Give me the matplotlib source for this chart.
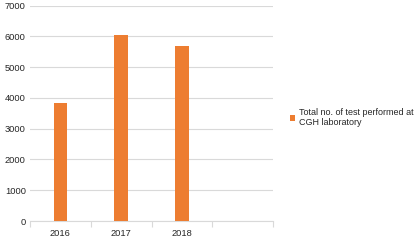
import matplotlib
matplotlib.use("Agg")
import matplotlib.pyplot as plt
import numpy as np

years = ["2016", "2017", "2018", ""]
tests = [3850, 6040, 5690, 0]
series_name = "Total no. of test performed at\nCGH laboratory"

orange = "#ED7D31"
grid_col = "#D9D9D9"
text_col = "#262626"

plt.rcParams["font.family"] = ["Liberation Sans", "DejaVu Sans"]

fig = plt.figure(figsize=(4.19, 2.40), dpi=100)
ax = fig.add_axes([0.0716, 0.079, 0.58, 0.898])

x = np.arange(len(years))
bars = ax.bar(x[:3], tests[:3], width=0.22, color=orange, label=series_name, zorder=3)

ax.set_xlim(-0.5, len(years) - 0.5)
ax.set_ylim(0, 7000)
ax.set_yticks(np.arange(0, 7001, 1000))
ax.set_xticks(x)
ax.set_xticklabels(years)
ax.set_xticks(np.arange(-0.5, len(years), 1), minor=True)

ax.grid(axis="y", color=grid_col, linewidth=0.8, zorder=0)
for s in ["top", "right", "left"]:
    ax.spines[s].set_visible(False)
ax.spines["bottom"].set_color(grid_col)
ax.spines["bottom"].set_linewidth(0.8)

ax.tick_params(axis="y", length=0, labelsize=6.7, pad=3, colors=text_col)
ax.tick_params(axis="x", which="major", length=0, labelsize=6.7, pad=6, colors=text_col)
ax.tick_params(axis="x", which="minor", length=4, color=grid_col, width=0.8)

leg = fig.legend(loc="center left", bbox_to_anchor=(0.672, 0.51), frameon=False,
                 fontsize=6.5, handlelength=0.6, handleheight=0.6, handletextpad=0.4)
for t in leg.get_texts():
    t.set_color(text_col)

fig.savefig("out.png", dpi=100)
